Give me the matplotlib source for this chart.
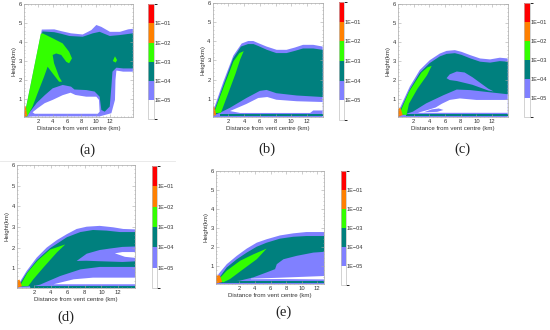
"""
Recreate the five-panel concentration contour figure (a)-(e) with colour bars.

Output:
    out.png
"""

import matplotlib.pyplot as plt
from matplotlib.cm import ScalarMappable
from matplotlib.colors import BoundaryNorm, ListedColormap
from matplotlib.lines import Line2D
from matplotlib.ticker import MultipleLocator

plt.rcParams["font.family"] = ["Liberation Sans", "DejaVu Sans"]

# concentration levels of the colour bar, bottom to top
LEVELS = [1e-6, 1e-5, 1e-4, 1e-3, 1e-2, 1e-1, 1.0]
LEVEL_LABELS = ["1E\u221205", "1E\u221204", "1E\u221203", "1E\u221202", "1E\u221201"]
BAND_COLORS = ["#ffffff", "#8080ff", "#00807e", "#33ff00", "#ff8000", "#ff0000"]
WHITE, PURPLE, TEAL, GREEN, ORANGE = 0, 1, 2, 3, 4

PANEL_LETTERS = ["(a)", "(b)", "(c)", "(d)", "(e)"]
X_TICKS = [2, 4, 6, 8, 10, 12]
Y_TICKS = [1, 2, 3, 4, 5, 6]
X_LIMITS = [(0, 15.2), (0, 14), (0, 14), (0, 14), (-1, 12.9)]
Y_LIMITS = (0.05, 6)
X_LABEL = "Distance from vent centre (km)"
Y_LABEL = "Height(km)"

# contour outlines, (distance km, height km)
A_PURPLE = [(0, 0.03), (2.49, 4.66), (4.23, 4.67), (5.16, 4.58), (6.57, 4.46), (8.2, 4.4),
            (9.4, 4.63), (10.1, 4.9), (10.8, 4.8), (12.0, 4.54), (13.4, 4.54), (14.55, 4.67),
            (15.2, 4.7), (15.2, 2.44), (13.85, 2.44), (12.9, 2.5), (12.77, 2.0), (12.7, 0.95),
            (12.2, 0.25), (10.56, 0.08), (1.17, 0.08)]
A_TEAL = [(0.14, 0.16), (2.58, 4.56), (4.23, 4.52), (5.16, 4.44), (6.34, 4.32), (8.2, 4.28),
          (9.6, 4.46), (10.56, 4.54), (11.97, 4.32), (13.4, 4.37), (15.2, 4.46), (15.2, 2.61),
          (13.85, 2.61), (12.9, 2.65), (12.35, 2.44), (12.2, 1.65), (11.97, 0.6), (11.27, 0.33),
          (10.8, 0.42), (10.56, 1.12), (9.86, 1.39), (8.7, 1.47), (7.04, 1.5), (6.57, 1.65),
          (5.4, 1.74), (4.0, 1.56), (2.9, 1.2), (1.8, 0.8), (1.0, 0.4), (0.47, 0.16)]
A_HOLE = [(1.2, 0.3), (1.9, 0.51), (2.9, 0.78), (4.0, 0.95), (5.4, 1.2), (6.5, 1.33),
          (7.18, 1.21), (8.69, 1.12), (10.1, 1.12), (10.47, 0.95), (10.56, 0.33), (10.3, 0.22),
          (1.5, 0.22)]
A_GREEN = [(0.05, 0.1), (2.35, 4.44), (2.6, 4.46), (4.0, 4.2), (5.4, 3.93), (6.3, 3.49),
           (6.7, 3.14), (6.3, 2.88), (5.9, 2.96), (5.2, 3.32), (4.5, 3.4), (4.0, 3.32),
           (4.2, 2.88), (4.9, 2.17), (5.3, 1.91), (4.9, 1.91), (4.0, 2.35), (3.3, 2.7),
           (2.8, 2.17), (1.9, 1.3), (1.2, 0.6), (0.45, 0.07)]
A_GREEN_SPOT = [(12.4, 3.0), (12.7, 3.25), (13.0, 3.05), (12.8, 2.92)]
A_ORANGE = [(0, 0.05), (0.1, 0.65), (0.25, 0.6), (0.45, 0.1)]

B_PURPLE = [(0, 0.05), (0, 0.3), (1.36, 1.89), (2.63, 3.25), (3.69, 3.88), (4.53, 4.01),
            (5.17, 4.01), (5.8, 3.9), (6.86, 3.72), (8.14, 3.55), (9.4, 3.55), (10.47, 3.67),
            (11.5, 3.81), (12.8, 3.81), (14, 3.72), (14, 0.05)]
B_TEAL = [(0.05, 0.2), (1.4, 1.75), (2.6, 3.1), (3.6, 3.72), (4.5, 3.85), (5.2, 3.85),
          (5.8, 3.75), (6.9, 3.55), (8.1, 3.38), (9.4, 3.38), (10.5, 3.5), (11.5, 3.62),
          (12.8, 3.62), (14, 3.55), (14, 1.09), (10.7, 1.17), (8.1, 1.29), (6.86, 1.46),
          (6.0, 1.41), (4.3, 1.04), (2.2, 0.53), (0.93, 0.27), (0.5, 0.2)]
B_HOLE = [(2.2, 0.36), (4.3, 0.73), (5.8, 1.04), (6.95, 1.09), (8.1, 0.95), (10.7, 0.87),
          (14, 0.83), (14, 0.39), (12.8, 0.39), (12.4, 0.26), (3.5, 0.26)]
B_STRIP = [(0.9, 0.1), (14, 0.1), (14, 0.22), (0.9, 0.22)]
B_GREEN = [(0.15, 0.25), (1.5, 1.72), (2.65, 2.95), (3.4, 3.38), (3.95, 3.48), (3.5, 3.05),
           (2.9, 2.3), (1.9, 1.2), (1.05, 0.27)]
B_ORANGE = [(0, 0.1), (0, 0.55), (0.2, 0.6), (0.45, 0.15)]

C_PURPLE = [(0, 0.05), (0, 0.3), (1.5, 1.65), (2.78, 2.53), (4.06, 3.05), (5.34, 3.4),
            (6.2, 3.54), (7.26, 3.58), (8.1, 3.49), (9.19, 3.32), (10.47, 3.14), (11.75, 3.09),
            (13.0, 3.18), (14, 3.14), (14, 0.05)]
C_TEAL = [(0.05, 0.2), (1.5, 1.5), (2.78, 2.38), (4.06, 2.9), (5.34, 3.25), (6.2, 3.38),
          (7.26, 3.42), (8.1, 3.33), (9.19, 3.15), (10.47, 2.97), (11.75, 2.92), (13.0, 3.0),
          (14, 2.97), (14, 1.25), (9.2, 1.47), (7.5, 1.5), (5.8, 1.2), (3.6, 0.77), (1.9, 0.33),
          (0.64, 0.16)]
C_LENS = [(6.2, 2.1), (6.6, 2.3), (7.5, 2.45), (8.5, 2.4), (9.5, 2.15), (10.5, 1.85),
          (11.5, 1.55), (12.2, 1.4), (11.5, 1.45), (10.5, 1.6), (9.5, 1.75), (8.5, 1.85),
          (7.5, 1.95), (6.6, 2.0)]
C_HOLE = [(2.6, 0.28), (3.8, 0.42), (4.8, 0.55), (5.6, 0.75), (6.6, 0.95), (7.9, 1.03),
          (10, 0.95), (14, 0.95), (14, 0.27), (2.6, 0.27)]
C_TONGUE = [(3.3, 0.3), (4.3, 0.45), (5.2, 0.5), (5.8, 0.42), (5.0, 0.32)]
C_STRIP = [(1.0, 0.1), (14, 0.1), (14, 0.22), (1.0, 0.22)]
C_GREEN = [(0.15, 0.18), (1.4, 1.38), (3.0, 2.4), (3.8, 2.68), (4.3, 2.75), (3.7, 2.25),
           (2.5, 1.55), (1.4, 0.75), (1.1, 0.16)]
C_ORANGE = [(0, 0.05), (0, 0.45), (0.3, 0.55), (0.6, 0.15)]

D_PURPLE = [(0, 0.05), (0, 0.13), (1.1, 0.86), (2.3, 1.51), (3.5, 2.0), (4.7, 2.36), (5.9, 2.65),
            (7.06, 2.9), (8.25, 3.01), (9.8, 3.05), (11.4, 2.98), (12.6, 2.9), (14, 2.88),
            (14, 0.05)]
D_TEAL = [(0.1, 0.1), (1.1, 0.76), (2.3, 1.38), (3.9, 1.97), (5.9, 2.5), (7.5, 2.75),
          (9.0, 2.85), (10.6, 2.82), (12.2, 2.75), (14, 2.75), (14, 1.06), (9.8, 1.06),
          (7.5, 0.94), (5.1, 0.62), (2.7, 0.2), (1.9, 0.13)]
D_LENS = [(7.06, 1.35), (8.25, 1.7), (9.8, 1.88), (11.0, 1.95), (12.5, 2.03), (14, 2.05),
          (14, 1.33), (12.5, 1.3), (11.0, 1.32), (9.5, 1.34), (8.2, 1.36)]
D_SLIVER = [(11.6, 1.72), (12.5, 1.78), (14, 1.78), (14, 1.5), (12.8, 1.55)]
D_HOLE = [(4.3, 0.22), (6.7, 0.46), (9.0, 0.54), (14, 0.54), (14, 0.22)]
D_STRIP = [(1.5, 0.05), (14, 0.05), (14, 0.14), (1.5, 0.14)]
D_GREEN = [(0.3, 0.13), (1.2, 0.78), (2.4, 1.36), (3.9, 1.9), (5.7, 2.15), (4.7, 1.76),
           (3.1, 1.03), (1.9, 0.46), (1.3, 0.13)]
D_ORANGE = [(0, 0.05), (0, 0.4), (0.25, 0.45), (0.55, 0.12)]

E_PURPLE = [(-1, 0.05), (-1, 0.14), (-0.68, 0.57), (0.38, 1.09), (1.67, 1.53), (2.95, 1.91),
            (4.23, 2.22), (5.5, 2.4), (7.2, 2.6), (8.9, 2.71), (10.6, 2.78), (12.9, 2.78),
            (12.9, 0.05)]
E_TEAL = [(-0.9, 0.2), (0.38, 0.92), (1.67, 1.35), (2.95, 1.7), (4.23, 2.01), (5.5, 2.22),
          (7.2, 2.43), (8.9, 2.53), (10.6, 2.57), (12.9, 2.57), (12.9, 1.74), (11.5, 1.7),
          (9.36, 1.53), (7.65, 1.35), (6.8, 1.09), (6.58, 0.83), (5.5, 0.66), (3.8, 0.4),
          (2.1, 0.23), (0.38, 0.14)]
E_SLIVER = [(3.5, 0.33), (7.2, 0.38), (12.9, 0.47), (12.9, 0.29), (7.2, 0.31), (3.5, 0.3)]
E_STRIP = [(-0.6, 0.1), (12.9, 0.1), (12.9, 0.21), (-0.6, 0.21)]
E_GREEN = [(-0.8, 0.23), (0.38, 0.75), (2.1, 1.27), (3.8, 1.61), (5.5, 1.91), (4.23, 1.35),
           (2.5, 0.83), (0.8, 0.31), (-0.04, 0.14)]
E_ORANGE = [(-1, 0.08), (-1, 0.5), (-0.5, 0.5), (-0.2, 0.15)]

# drawing order per panel: (band index, outline)
PANEL_LAYERS = [
    [(PURPLE, A_PURPLE), (TEAL, A_TEAL), (WHITE, A_HOLE), (GREEN, A_GREEN),
     (GREEN, A_GREEN_SPOT), (ORANGE, A_ORANGE)],
    [(PURPLE, B_PURPLE), (TEAL, B_TEAL), (WHITE, B_HOLE), (TEAL, B_STRIP),
     (GREEN, B_GREEN), (ORANGE, B_ORANGE)],
    [(PURPLE, C_PURPLE), (TEAL, C_TEAL), (PURPLE, C_LENS), (WHITE, C_HOLE),
     (PURPLE, C_TONGUE), (TEAL, C_STRIP), (GREEN, C_GREEN), (ORANGE, C_ORANGE)],
    [(PURPLE, D_PURPLE), (TEAL, D_TEAL), (PURPLE, D_LENS), (WHITE, D_SLIVER),
     (WHITE, D_HOLE), (TEAL, D_STRIP), (GREEN, D_GREEN), (ORANGE, D_ORANGE)],
    [(PURPLE, E_PURPLE), (TEAL, E_TEAL), (WHITE, E_SLIVER), (TEAL, E_STRIP),
     (GREEN, E_GREEN), (ORANGE, E_ORANGE)],
]

# layout in figure fractions: axes, colour bar, letter position
AXES_RECTS = [
    (0.0436, 0.6455, 0.198, 0.342),
    (0.3867, 0.6455, 0.200, 0.346),
    (0.7236, 0.6455, 0.1995, 0.3415),
    (0.0315, 0.1280, 0.214, 0.372),
    (0.3927, 0.1394, 0.197, 0.3433),
]
CBAR_RECTS = [
    (0.269, 0.639, 0.011, 0.348),
    (0.616, 0.636, 0.0091, 0.358),
    (0.9527, 0.6455, 0.011, 0.345),
    (0.2758, 0.1264, 0.0103, 0.3715),
    (0.620, 0.1364, 0.0091, 0.346),
]
LETTER_POS = [(87, 150), (267, 149), (462, 149), (66, 317), (283, 312)]

FRAME_COLOR = "#a8a8a8"
TEXT_COLOR = "#333333"


def style_axes(ax, xlim):
    ax.set_xlim(*xlim)
    ax.set_ylim(*Y_LIMITS)
    ax.set_xticks(X_TICKS)
    ax.set_yticks(Y_TICKS)
    ax.xaxis.set_minor_locator(MultipleLocator(0.5))
    ax.yaxis.set_minor_locator(MultipleLocator(0.2))
    ax.tick_params(which="both", direction="in", top=True, right=True, color=FRAME_COLOR,
                   width=0.4, labelsize=4.2, labelcolor=TEXT_COLOR, pad=1.5)
    ax.tick_params(which="major", length=2)
    ax.tick_params(which="minor", length=1)
    for spine in ax.spines.values():
        spine.set_color(FRAME_COLOR)
        spine.set_linewidth(0.5)
    ax.set_xlabel(X_LABEL, fontsize=4.4, color=TEXT_COLOR, labelpad=1.5)
    ax.set_ylabel(Y_LABEL, fontsize=4.4, color=TEXT_COLOR, labelpad=1.5)


def draw_colorbar(fig, rect):
    cax = fig.add_axes(rect)
    mappable = ScalarMappable(norm=BoundaryNorm(LEVELS, len(BAND_COLORS)),
                              cmap=ListedColormap(BAND_COLORS))
    cbar = fig.colorbar(mappable, cax=cax, ticks=LEVELS[1:-1])
    cbar.ax.set_yticklabels(LEVEL_LABELS)
    cbar.ax.tick_params(length=0, pad=0.5, labelsize=4, labelcolor=TEXT_COLOR)
    cbar.outline.set_edgecolor("#c0c0c0")
    cbar.outline.set_linewidth(0.5)


def main():
    fig = plt.figure(figsize=(5.5, 3.3), dpi=100)

    for i, layers in enumerate(PANEL_LAYERS):
        ax = fig.add_axes(AXES_RECTS[i])
        for band, outline in layers:
            xs = [p[0] for p in outline]
            ys = [p[1] for p in outline]
            ax.fill(xs, ys, color=BAND_COLORS[band], linewidth=0)
        style_axes(ax, X_LIMITS[i])
        draw_colorbar(fig, CBAR_RECTS[i])
        lx, ly = LETTER_POS[i]
        fig.text(lx / 550, 1 - ly / 330, PANEL_LETTERS[i], ha="center", va="center",
                 fontsize=10.5, family=["Liberation Serif", "DejaVu Serif"], color="#222222")

    # faint separator between the two rows
    fig.add_artist(Line2D([0, 175 / 550], [1 - 161 / 330] * 2, color="#e6e6e6", lw=0.6))

    fig.savefig("out.png", dpi=100)
    plt.close(fig)


if __name__ == "__main__":
    main()
